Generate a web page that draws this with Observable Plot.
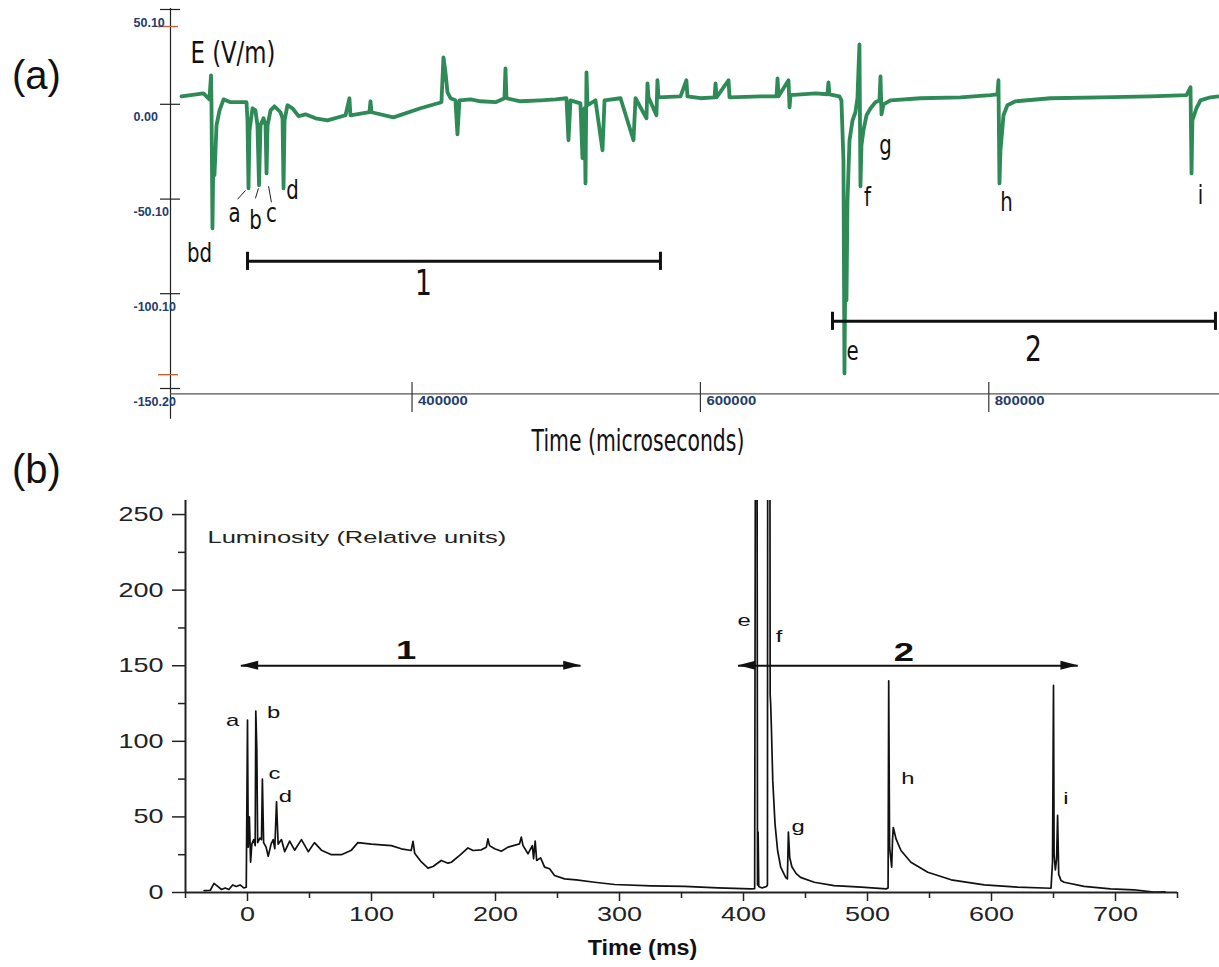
<!DOCTYPE html>
<html>
<head>
<meta charset="utf-8">
<script src="https://cdn.jsdelivr.net/npm/d3@7"></script>
<script src="https://cdn.jsdelivr.net/npm/@observablehq/plot@0.6"></script>
<style>
  html, body { margin: 0; padding: 0; background: #fff; }
  #wrap { position: relative; width: 1219px; height: 967px; background: #fff; overflow: hidden; }
  .plabel { position: absolute; font-family: "Liberation Sans", Arial, sans-serif; font-size: 40px; line-height: 40px; color: #111; z-index: 5; }
  #pa, #pb { position: absolute; left: 0; }
  #pa { top: 0; }
  #pb { top: 470px; }
</style>
</head>
<body>
<div id="wrap">
  <div id="pa"></div>
  <div id="pb"></div>
  <div class="plabel" style="left:12px;top:55px">(a)</div>
  <div class="plabel" style="left:12px;top:449px">(b)</div>
</div>
<script>
// ---------------- Panel (a): electric field ----------------
const timeA = [240100,255400,259500,260600,260900,261600,262300,263000,264400,266500,269300,274100,285200,285900,286600,287300,289400,291400,292800,293900,294900,297000,298400,299100,299800,301900,304600,308800,310200,310900,311600,313600,317100,321300,326100,333100,341400,353900,356600,357300,370500,371200,371900,387100,405900,420400,421800,423200,424600,426700,430100,431500,432900,440600,447500,457900,464100,464800,465500,475200,489100,499500,507100,508500,509900,516800,518200,519600,520300,521000,521700,527200,532100,533500,544600,553600,555000,562600,563300,564000,569500,570200,570900,586200,590300,591000,600100,609800,610500,611200,619500,620200,641700,652800,653500,654200,661100,661800,662500,679800,688100,688800,689500,696400,697800,699200,699900,700600,701300,702000,703400,705500,707500,708900,709600,710300,711000,711700,713100,715200,718000,721400,724200,724900,725600,727000,731800,752600,780400,801200,806000,806700,807400,808100,810200,812900,818500,842800,877500,912100,937100,939900,940600,941200,944000,946800,953700,960000];
const fieldA = [4.2,5.8,2.6,15.3,2.1,-65.5,-24.3,-37.5,-11.1,-3.2,2.6,1.1,1.1,-8.5,-44.4,-13.7,-2.1,-3.2,-11.1,-42.8,-11.1,-7.4,-11.1,-36.5,-11.1,-3.2,-1.1,-4.2,-7.4,-44.4,-8.5,-0.5,-2.1,-6.3,-5.3,-7.4,-8.5,-5.8,3.2,-5.8,-4.2,1.6,-4.2,-6.9,-2.1,1.1,24.8,16.9,6.3,3.2,2.1,-15.9,2.1,2.6,1.6,1.1,3.2,19.0,3.2,1.6,2.1,2.6,3.2,-19.0,2.1,0.5,-28.5,-2.1,-41.8,16.9,-0.5,2.1,-24.3,2.1,3.2,-19.0,3.2,-7.4,11.1,3.7,-5.8,12.7,3.7,4.2,12.7,4.2,3.2,3.7,11.1,3.7,12.7,3.7,4.2,4.2,13.7,4.2,12.7,-1.6,4.8,5.8,5.3,11.6,5.3,4.2,2.1,-29.6,-142.2,-77.2,-103.6,-50.7,-19.0,-8.5,-4.2,3.2,18.0,31.7,-43.3,-21.7,-13.7,-5.8,-2.1,1.1,2.1,14.8,-5.3,0,2.1,3.2,3.7,4.8,5.3,12.7,-41.8,-24.3,-5.8,-0.5,1.6,3.2,3.7,4.2,4.8,9.0,-36.5,-8.5,-2.1,2.1,3.7,4.2];

const yTicksA = [50.1, 0, -50.1, -100.1, -150.2];
const yTickLabelsA = ["50.10", "0.00", "-50.10", "-100.10", "-150.20"];
const redTicksA = [41.1, -142.9];
const xTicksA = [400000, 600000, 800000];
const xTickLabelsA = ["400000", "600000", "800000"];

const annLabelsA = ["bd", "a", "b", "c", "d", "e", "f", "g", "h", "i"];
const annTimeA   = [252600, 276900, 291400, 302500, 317100, 705500, 715900, 728400, 812300, 946800];
const annFieldA  = [-78.7, -57.6, -61.3, -57.6, -45.5, -130.5, -49.2, -21.7, -51.8, -48.1];

const leadT1 = [279000, 291400, 300500];
const leadE1 = [-50.2, -49.7, -43.3];
const leadT2 = [284500, 293500, 302500];
const leadE2 = [-45.5, -44.4, -51.8];

const bracketLabelsA = ["1", "2"];
const bracketStartA = [285900, 691600];
const bracketEndA   = [572300, 957200];
const bracketFieldA = [-83.0, -114.7];
const bracketTextTimeA  = [408000, 831000];
const bracketTextFieldA = [-94.6, -130.0];

// ---------------- Panel (b): luminosity ----------------
const timeB = [-35,-30,-27,-24,-21,-18,-15,-12,-9,-6,-3,-1,0,0.6,1.5,2.5,3.5,5,6.2,6.7,7.5,8.2,10,11.3,12,13,15,16.7,19,20.7,22,23.4,24.7,27.4,30,34,38,43.5,49,54,59.6,67.7,75.7,83.8,89,100,116,124,132,133.5,134.8,140.2,145.6,149.6,156.3,161.7,164.4,171.1,177.8,181.9,188.6,192.6,193.9,195.2,199.3,204.7,210.1,219.4,220.8,222.2,226.2,229.7,230.7,232,233.2,236.4,239.6,243.6,247.6,255.7,265.1,279.9,296,325.5,352.4,379.3,406,409,409.8,410.8,411.3,411.8,412.3,415,418.5,419.3,419.6,421.2,421.5,421.9,422.4,423.6,425.4,427.5,430,434,435.4,436.2,437.3,439,442.5,446,457,473,495,515,516.6,517.1,517.8,519.5,520.2,520.8,523,527,535,548.6,567.4,594.2,621,648,649.2,650,650.5,651.5,652.5,653.3,654.2,656,658.6,674.7,696,715,731,740];
const lumB = [1.3,1.5,6,4,2,3,2,5,4,5,3,3.5,114,30,50,20,32,35,31,120,95,33,36,35,75,33,30,24,32,35,29,60,32,35,27,34,28,35,27,33,28,25,25,28,33,32,31,28.9,27.8,33.9,26,20.2,16.1,17.2,21.2,19.4,20,24.5,29.5,27.8,28.2,30,35.5,31,28.9,27.3,30,32.2,36.6,31,25.6,31,22.3,34,21.2,22.9,16.8,15.7,11.2,9,8.4,6.8,5.3,4.4,4,3.1,2.4,2.5,400,400,5,40,4,3,4,5,400,400,131,125,112,74,45.6,27.8,16.8,10,9,40,23,17,12.5,10,6.8,4.6,3.5,2.4,3,140,30,16.8,35,43,35.5,27.8,20,13.4,8.4,5.1,3.5,2.8,20,137,25,15,22,51,12,8,6.8,4,2.4,1.8,0.2,0.5];

const yTicksB = [0, 50, 100, 150, 200, 250];
const yMinorB = [25, 75, 125, 175, 225];
const xTicksB = [0, 100, 200, 300, 400, 500, 600, 700];
const xMinorB = [-50, 50, 150, 250, 350, 450, 550, 650, 750];

const annLabelsB = ["a", "b", "c", "d", "e", "f", "g", "h", "i"];
const annTimeB   = [-12.1, 21, 21.8, 30.6, 400.5, 428.7, 444, 532.6, 660];
const annLumB    = [113.8, 119, 78.7, 63.5, 179.9, 169.3, 43.7, 75.4, 62.2];

const arrowLabelsB = ["1", "2"];
const arrowStartB = [-5, 396];
const arrowEndB   = [269, 670];
const arrowLumB   = [150, 150];
const arrowTextTimeB = [128, 529.4];
const arrowTextLumB  = [160, 158.7];

// ---------------- build tables ----------------
const traceA = timeA.map((t, i) => ({t, e: fieldA[i]}));
const annA = annLabelsA.map((label, i) => ({label, t: annTimeA[i], e: annFieldA[i]}));
const leadA = leadT1.map((t1, i) => ({t1, e1: leadE1[i], t2: leadT2[i], e2: leadE2[i]}));
const bracketsA = bracketLabelsA.map((label, i) => ({label, t1: bracketStartA[i], t2: bracketEndA[i], e: bracketFieldA[i], tt: bracketTextTimeA[i], te: bracketTextFieldA[i]}));
const capsA = bracketsA.flatMap(b => [{t: b.t1, e: b.e}, {t: b.t2, e: b.e}]);

const traceB = timeB.map((t, i) => ({t, v: lumB[i]}));
const annB = annLabelsB.map((label, i) => ({label, t: annTimeB[i], v: annLumB[i]}));
const arrowsB = arrowLabelsB.map((label, i) => ({label, x1: arrowStartB[i], x2: arrowEndB[i], v: arrowLumB[i], tt: arrowTextTimeB[i], tv: arrowTextLumB[i]}));
const headLen = 14, headHalf = 3;
const headsB = arrowsB.flatMap((a, i) => [
  {id: "L" + i, t: a.x1, lo: a.v, hi: a.v},
  {id: "L" + i, t: a.x1 + headLen, lo: a.v - headHalf, hi: a.v + headHalf},
  {id: "R" + i, t: a.x2 - headLen, lo: a.v - headHalf, hi: a.v + headHalf},
  {id: "R" + i, t: a.x2, lo: a.v, hi: a.v}
]);

const cond = "DejaVu Sans, sans-serif";
const arial = "Liberation Sans, Arial, sans-serif";
const tickBlue = "#1f3d6d";
// distinct near-black fills, used as hooks to restyle the text widths afterwards
const C_COND = "#111110", C_COND2 = "#111114", C_XA = "#1f3d6e",
      C_WIDE = "#111112", C_WIDE2 = "#222221", C_TITLE = "#111113", C_YTL = "#222223", C_XTL = "#222224";

const xDomA = [232500, 960000];
const yDomA = [-150.2, 50.1];
const WA = 1219, HA = 470, mlA = 170, mrA = 0, mtA = 9, mbA = 82;
const frameWA = WA - mlA - mrA, frameHA = HA - mtA - mbA;

const plotA = Plot.plot({
  width: WA, height: HA,
  marginLeft: mlA, marginRight: mrA, marginTop: mtA, marginBottom: mbA,
  x: {domain: xDomA, axis: null},
  y: {domain: yDomA, axis: null},
  style: {background: "transparent", overflow: "visible"},
  marks: [
    Plot.ruleX([xDomA[0]], {y1: 50.6, y2: -166.5, stroke: "#222", strokeWidth: 1.2}),
    Plot.ruleY([-153], {x1: xDomA[0], x2: xDomA[1], stroke: "#555", strokeWidth: 1.3}),
    Plot.tickY(yTicksA, {y: d => d, insetLeft: -10, insetRight: frameWA - 10, stroke: "#222", strokeWidth: 1.2}),
    Plot.tickY(redTicksA, {y: d => d, insetLeft: -12, insetRight: frameWA - 8, stroke: "#c4603e", strokeWidth: 1.4}),
    Plot.text(yTicksA, {y: d => d, text: (d, i) => yTickLabelsA[i], frameAnchor: "left", textAnchor: "start", dx: -37, dy: 13, fill: tickBlue, fontWeight: "bold", fontSize: 12.5, fontFamily: arial}),
    Plot.tickX(xTicksA, {x: d => d, insetTop: frameHA - 6, insetBottom: -24, stroke: "#333", strokeWidth: 1.2}),
    Plot.text(xTicksA, {x: d => d, text: (d, i) => xTickLabelsA[i], frameAnchor: "bottom", textAnchor: "start", dx: 6, dy: 16, fill: C_XA, fontWeight: "bold", fontSize: 13, fontFamily: arial}),
    Plot.line(traceA, {x: "t", y: "e", stroke: "#2e8a57", strokeWidth: 3.8, strokeLinejoin: "round"}),
    Plot.link(leadA, {x1: "t1", y1: "e1", x2: "t2", y2: "e2", stroke: "#222", strokeWidth: 1}),
    Plot.ruleY(bracketsA, {y: "e", x1: "t1", x2: "t2", stroke: "#111", strokeWidth: 3}),
    Plot.ruleX(capsA, {x: "t", y1: d => d.e + 4.8, y2: d => d.e - 4.8, stroke: "#111", strokeWidth: 3}),
    Plot.text(annA, {x: "t", y: "e", text: "label", fontSize: 26, fontFamily: cond, fill: C_COND}),
    Plot.text(bracketsA, {x: "tt", y: "te", text: "label", fontSize: 35, fontFamily: cond, fill: C_COND}),
    Plot.text(["E (V/m)"], {frameAnchor: "top-left", textAnchor: "start", dx: 20, dy: 32, fontSize: 30, fontFamily: cond, fill: C_COND}),
    Plot.text(["Time (microseconds)"], {frameAnchor: "bottom", dx: -57, dy: 62, fontSize: 30, fontFamily: cond, fill: C_COND2})
  ]
});

const xDomB = [-50, 750];
const yDomB = [0, 259.3];
const WB = 1219, HB = 497, mlB = 185, mrB = 42, mtB = 30, mbB = 75;
const frameWB = WB - mlB - mrB, frameHB = HB - mtB - mbB;

const plotB = Plot.plot({
  width: WB, height: HB,
  marginLeft: mlB, marginRight: mrB, marginTop: mtB, marginBottom: mbB,
  x: {domain: xDomB, axis: null},
  y: {domain: yDomB, axis: null},
  style: {background: "transparent", overflow: "visible"},
  marks: [
    Plot.line(traceB, {x: "t", y: "v", stroke: "#111", strokeWidth: 1.7, clip: true}),
    Plot.ruleX([xDomB[0]], {stroke: "#222", strokeWidth: 2}),
    Plot.ruleY([0], {stroke: "#222", strokeWidth: 2}),
    Plot.tickY(yTicksB, {y: d => d, insetLeft: -13, insetRight: frameWB, stroke: "#222", strokeWidth: 1.5}),
    Plot.tickY(yMinorB, {y: d => d, insetLeft: -7, insetRight: frameWB, stroke: "#222", strokeWidth: 1.5}),
    Plot.text(yTicksB, {y: d => d, text: d => String(d), frameAnchor: "left", textAnchor: "end", dx: -22, fontSize: 20, fontFamily: arial, fill: C_YTL}),
    Plot.tickX(xTicksB, {x: d => d, insetTop: frameHB, insetBottom: -9, stroke: "#222", strokeWidth: 1.5}),
    Plot.tickX(xMinorB, {x: d => d, insetTop: frameHB, insetBottom: -6, stroke: "#222", strokeWidth: 1.5}),
    Plot.text(xTicksB, {x: d => d, text: d => String(d), frameAnchor: "bottom", lineAnchor: "top", dy: 14, fontSize: 20, fontFamily: arial, fill: C_XTL}),
    Plot.ruleY(arrowsB, {y: "v", x1: "x1", x2: "x2", stroke: "#111", strokeWidth: 2}),
    Plot.areaY(headsB, {x: "t", y1: "lo", y2: "hi", z: "id", fill: "#111", curve: "linear"}),
    Plot.text(arrowsB, {x: "tt", y: "tv", text: "label", fontSize: 26, fontWeight: "bold", fontFamily: arial, fill: C_WIDE}),
    Plot.text(annB, {x: "t", y: "v", text: "label", fontSize: 17, fontFamily: arial, fill: C_WIDE}),
    Plot.text(["Luminosity (Relative units)"], {frameAnchor: "top-left", textAnchor: "start", dx: 22, dy: 30, fontSize: 17, fontFamily: arial, fill: C_WIDE2}),
    Plot.text(["Time (ms)"], {frameAnchor: "bottom", dx: -39, dy: 62, fontSize: 22, fontWeight: "bold", fontFamily: arial, fill: C_TITLE})
  ]
});

// narrow or widen the glyphs of selected text marks (scale applied in each text's own frame)
function stretch(svg, fill, sx) {
  svg.querySelectorAll("g").forEach(g => {
    if ((g.getAttribute("fill") || "").toLowerCase() !== fill) return;
    g.querySelectorAll("text").forEach(el => {
      const tr = el.getAttribute("transform");
      el.setAttribute("transform", (tr ? tr + " " : "") + `scale(${sx},1)`);
    });
  });
}
stretch(plotA, C_COND, 0.76);
stretch(plotA, C_COND2, 0.68);
stretch(plotA, C_XA, 1.15);
stretch(plotB, C_WIDE, 1.4);
stretch(plotB, C_WIDE2, 1.5);
stretch(plotB, C_TITLE, 1.06);
stretch(plotB, C_YTL, 1.35);
stretch(plotB, C_XTL, 1.35);

document.getElementById("pa").appendChild(plotA);
document.getElementById("pb").appendChild(plotB);
</script>
</body>
</html>
